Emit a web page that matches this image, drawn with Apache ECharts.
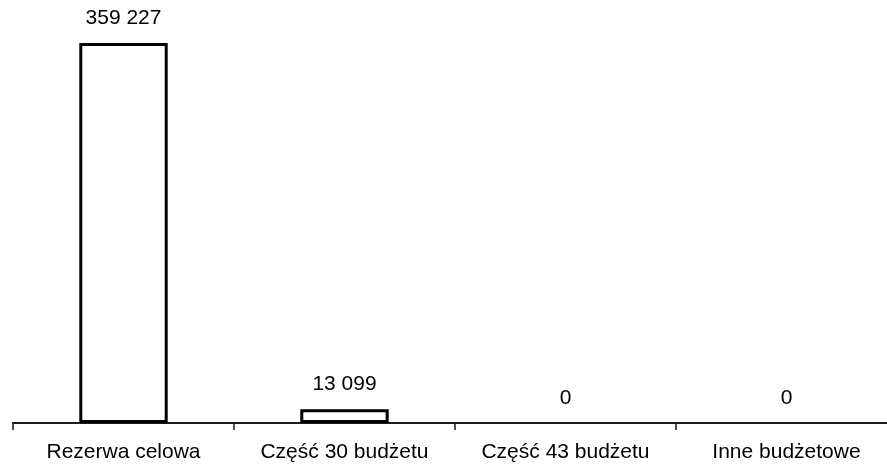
<!DOCTYPE html>
<html>
<head>
<meta charset="utf-8">
<script src="https://cdn.jsdelivr.net/npm/echarts@6/dist/echarts.min.js"></script>
<style>
  html, body { margin: 0; padding: 0; background: #fff; }
  #chart { width: 887px; height: 469px; }
</style>
</head>
<body>
<div id="chart"></div>
<script>
  // dane z wykresu
  const categories = ['Rezerwa celowa', 'Część 30 budżetu', 'Część 43 budżetu', 'Inne budżetowe']
  const values = [359227, 13099, 0, 0]

  // 359227 -> "359 227"
  function fmt(v) {
    return String(v).replace(/\B(?=(\d{3})+(?!\d))/g, ' ')
  }

  // słupki o wartości 0 bez obramowania (w oryginale ich nie widać)
  const barData = values.map(v => v === 0
    ? { value: v, itemStyle: { borderWidth: 0 } }
    : v)

  const chart = echarts.init(document.getElementById('chart'))
  const option = {
    animation: false,
    textStyle: { fontFamily: 'Liberation Sans, Arial, sans-serif' },
    grid: { left: 13, top: 0, width: 884, bottom: 46, containLabel: false, outerBoundsMode: 'none' },
    xAxis: {
      type: 'category',
      data: categories,
      boundaryGap: true,
      axisLine: { lineStyle: { color: '#1a1a1a', width: 2 } },
      axisTick: { show: true, length: 7, lineStyle: { color: '#1a1a1a', width: 1.5 } },
      axisLabel: { color: '#000', fontSize: 21, margin: 19, interval: 0 }
    },
    yAxis: {
      type: 'value',
      min: 0,
      max: 400000,
      show: false,
      splitLine: { show: false }
    },
    series: [{
      type: 'bar',
      data: barData,
      barWidth: '40%',
      itemStyle: { color: '#fff', borderColor: '#000', borderWidth: 3 },
      label: {
        show: true,
        position: 'top',
        distance: 14,
        color: '#000',
        fontSize: 21,
        formatter: p => fmt(p.value)
      }
    }]
  }
  chart.setOption(option)
</script>
</body>
</html>
